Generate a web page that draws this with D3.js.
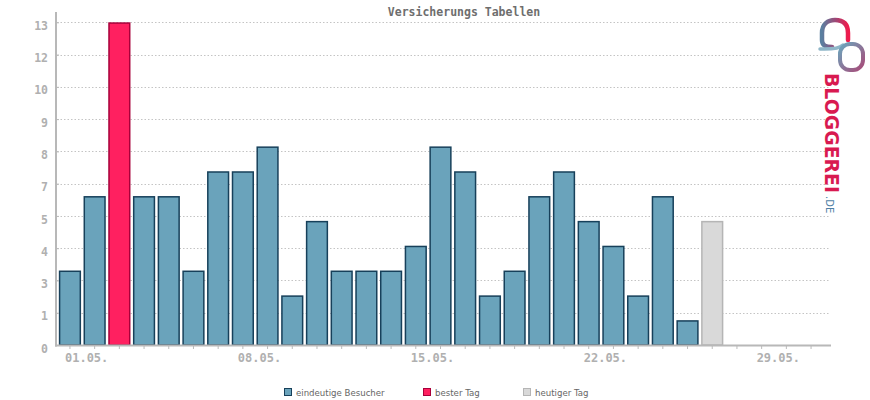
<!DOCTYPE html>
<html>
<head>
<meta charset="utf-8">
<script src="https://cdn.jsdelivr.net/npm/d3@7"></script>
<style>
  html, body { margin: 0; padding: 0; background: #fff; }
  svg { display: block; }
</style>
</head>
<body>
<svg id="chart" width="870" height="400"></svg>
<script>
// ---- data ----
const title = "Versicherungs Tabellen";
const days = d3.range(1, 32).map(d => String(d).padStart(2, "0") + ".05.");
const visitors = [3, 6, 13, 6, 6, 3, 7, 7, 8, 2, 5, 3, 3, 3, 4, 8, 7, 2, 3, 6, 7, 5, 4, 2, 6, 1, 5];
const bestDayIndex = 2;
const todayIndex = 26;
const xLabelDays = ["01.05.", "08.05.", "15.05.", "22.05.", "29.05."];
const yTickValues = [0, 1.3, 2.6, 3.9, 5.2, 6.5, 7.8, 9.1, 10.4, 11.7, 13];
const yTickLabels = ["0", "1", "3", "4", "5", "7", "8", "9", "10", "12", "13"];
const legendLabels = ["eindeutige Besucher", "bester Tag", "heutiger Tag"];

// ---- styles ----
const colors = {
  normal: { fill: "#6aa3bb", stroke: "#17405a" },
  best: { fill: "#ff2060", stroke: "#a8003a" },
  today: { fill: "#d9d9d9", stroke: "#b5b5b5" }
};
const mono = "'DejaVu Sans Mono', 'Liberation Mono', monospace";

const svg = d3.select("#chart");

const x = d3.scaleBand().domain(days).range([57.6, 823.4]).paddingInner(0.1).paddingOuter(0.05);
const y = d3.scaleLinear().domain([0, 13]).range([345, 22.3]);

// gridlines
svg.append("g").selectAll("line")
  .data(yTickValues.slice(1))
  .join("line")
  .attr("x1", 57).attr("x2", 830)
  .attr("y1", d => Math.round(y(d)) + 0.5).attr("y2", d => Math.round(y(d)) + 0.5)
  .attr("stroke", "#c4c4c4").attr("stroke-width", 1)
  .attr("stroke-dasharray", "1.5,2");

// title
svg.append("text")
  .attr("x", 464).attr("y", 15.5)
  .attr("text-anchor", "middle")
  .attr("font-family", mono).attr("font-weight", "bold").attr("font-size", 11.5)
  .attr("fill", "#6e6e6e")
  .text(title);

// bars
const bars = visitors.map((v, i) => ({ day: days[i], v, type: i === bestDayIndex ? "best" : (i === todayIndex ? "today" : "normal") }));
svg.append("g").selectAll("rect")
  .data(bars)
  .join("rect")
  .attr("x", d => x(d.day) + 0.75)
  .attr("width", x.bandwidth() - 1.5)
  .attr("y", d => y(d.v) + 0.75)
  .attr("height", d => y(0) - y(d.v) - 0.75)
  .attr("fill", d => colors[d.type].fill)
  .attr("stroke", d => colors[d.type].stroke)
  .attr("stroke-width", 1.5);

// y axis
const yAxis = d3.axisLeft(y).tickValues(yTickValues)
  .tickFormat((d, i) => yTickLabels[i]).tickSize(3).tickPadding(5);
const gy = svg.append("g").attr("transform", "translate(56,0)").call(yAxis);
gy.select(".domain").remove();
gy.selectAll(".tick line").attr("stroke", "#bbb").attr("x1", 0).attr("x2", 3);
gy.selectAll(".tick text")
  .attr("font-family", mono).attr("font-weight", "bold").attr("font-size", 11.5)
  .attr("fill", "#b0b0b0").attr("dy", "0.62em");
svg.append("line").attr("x1", 56).attr("x2", 56).attr("y1", 12).attr("y2", 346.5)
  .attr("stroke", "#b8b8b8").attr("stroke-width", 2);

// x axis
const xAxis = d3.axisBottom(x).tickSize(3).tickPadding(6)
  .tickFormat(d => xLabelDays.includes(d) ? d : "");
const gx = svg.append("g").attr("transform", "translate(0,346)").call(xAxis);
gx.select(".domain").remove();
gx.selectAll(".tick line").attr("stroke", "#bbb");
gx.selectAll(".tick text")
  .attr("font-family", mono).attr("font-weight", "bold").attr("font-size", 12)
  .attr("fill", "#b0b0b0")
  .attr("text-anchor", "start").attr("x", -5).attr("dy", "0.6em");
svg.append("line").attr("x1", 55).attr("x2", 831).attr("y1", 345.5).attr("y2", 345.5)
  .attr("stroke", "#b8b8b8").attr("stroke-width", 2);

// legend
const legendX = [284, 423, 523];
const legendTypes = ["normal", "best", "today"];
const lg = svg.append("g").selectAll("g").data(legendLabels).join("g")
  .attr("transform", (d, i) => `translate(${legendX[i]},388)`);
lg.append("rect").attr("x", 0.5).attr("y", 0.5).attr("width", 7).attr("height", 7)
  .attr("fill", (d, i) => colors[legendTypes[i]].fill)
  .attr("stroke", (d, i) => colors[legendTypes[i]].stroke).attr("stroke-width", 1);
lg.append("text").attr("x", 12).attr("y", 7.5)
  .attr("font-family", "'DejaVu Sans', sans-serif").attr("font-size", 8.6)
  .attr("fill", "#666").text(d => d);

// logo (Bloggerei.de)
const defs = svg.append("defs");
const g1 = defs.append("linearGradient").attr("id", "lg1").attr("x1", "0").attr("y1", "0").attr("x2", "1").attr("y2", "0");
g1.append("stop").attr("offset", "0").attr("stop-color", "#5a7fa0");
g1.append("stop").attr("offset", "0.5").attr("stop-color", "#9a4a78");
g1.append("stop").attr("offset", "1").attr("stop-color", "#ef1a4c");
const g2 = defs.append("linearGradient").attr("id", "lg2").attr("x1", "0").attr("y1", "0").attr("x2", "1").attr("y2", "1");
g2.append("stop").attr("offset", "0").attr("stop-color", "#6aa6bd");
g2.append("stop").attr("offset", "1").attr("stop-color", "#a84a78");
const g3 = defs.append("linearGradient").attr("id", "lg3").attr("gradientUnits", "userSpaceOnUse")
  .attr("x1", 0).attr("y1", 73).attr("x2", 0).attr("y2", 195);
g3.append("stop").attr("offset", "0").attr("stop-color", "#d81a50");
g3.append("stop").attr("offset", "0.5").attr("stop-color", "#9a2f62");
g3.append("stop").attr("offset", "1").attr("stop-color", "#4f6f90");

const logo = svg.append("g");
logo.append("path")
  .attr("d", "M832,47 C826,47 822,46 822,40 L822,33 C822,24 828,20 835,20 C843,20 848,24 848,33 L848,40")
  .attr("fill", "none").attr("stroke", "url(#lg1)").attr("stroke-width", 4.5).attr("stroke-linecap", "round");
logo.append("path")
  .attr("d", "M820,49 C826,49 838,50 843,45")
  .attr("fill", "none").attr("stroke", "#8fb6c8").attr("stroke-width", 3.5).attr("stroke-linecap", "round");
logo.append("rect")
  .attr("x", 840).attr("y", 44).attr("width", 23).attr("height", 26).attr("rx", 10)
  .attr("fill", "none").attr("stroke", "url(#lg2)").attr("stroke-width", 4);
logo.append("text")
  .attr("transform", "translate(825,73) rotate(90)")
  .attr("font-family", "'DejaVu Sans', sans-serif").attr("font-weight", "bold").attr("font-size", 19)
  .attr("textLength", 120).attr("lengthAdjust", "spacingAndGlyphs")
  .attr("fill", "url(#lg3)")
  .text("BLOGGEREI");
logo.append("text")
  .attr("transform", "translate(826,196) rotate(90)")
  .attr("font-family", "'DejaVu Sans', sans-serif").attr("font-size", 10)
  .attr("fill", "#4f7fa5")
  .text(".DE");
</script>
</body>
</html>
